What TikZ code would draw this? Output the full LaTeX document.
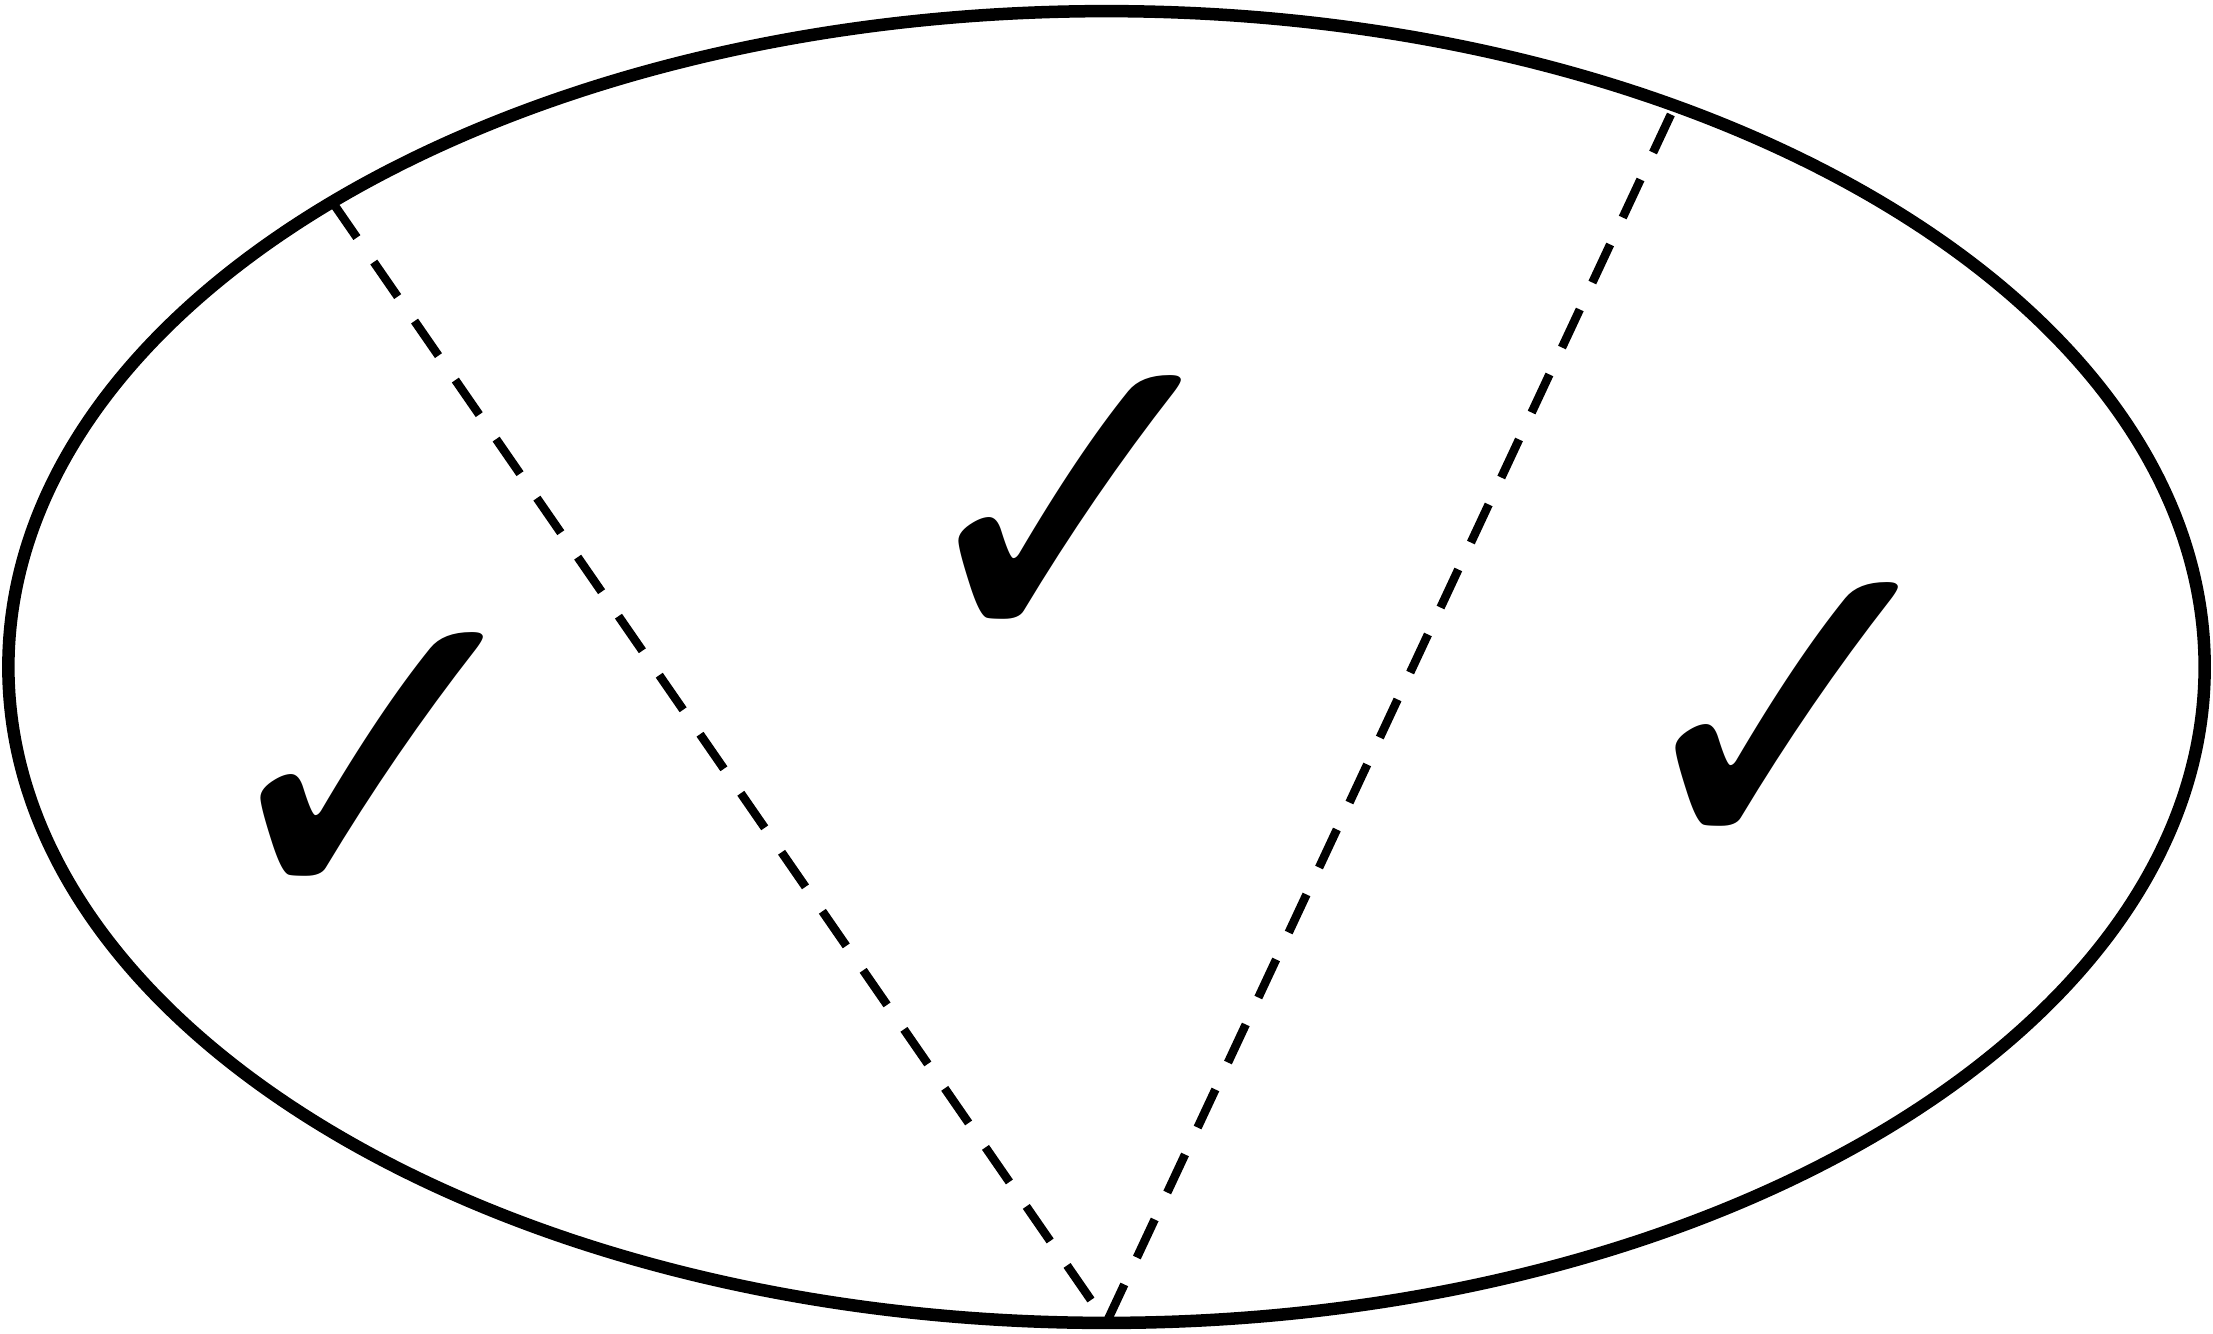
\documentclass[tikz,border=0pt]{standalone}
\usepackage{fontspec}
\newfontfamily\checkfont{DejaVu Sans}
\newcommand\tickmark{\scalebox{0.94}[1]{✓}}
\begin{document}
\begin{tikzpicture}[x=0.01cm,y=-0.01cm,
  rim/.style={line width=0.125cm},
  cut/.style={line width=0.085cm,dash pattern=on 0.42cm off 0.297cm},
  tick/.style={inner sep=0pt,font=\checkfont\fontsize{130}{130}\selectfont}]
\useasboundingbox (0,0) rectangle (2213,1333);
\draw[rim] (1106.5,667) ellipse [x radius=10.975cm, y radius=6.555cm];
\coordinate (bot) at (1106.5,1322.5);
\coordinate (tl) at (333,203);
\coordinate (tr) at (1672,112);
\draw[cut] (tl) -- (bot);
\draw[cut] (bot) -- (tr);
\node[tick] (c1) at (377,777) {\tickmark};
\node[tick] (c2) at (1075,520) {\tickmark};
\node[tick] (c3) at (1792,727) {\tickmark};
\end{tikzpicture}
\end{document}
